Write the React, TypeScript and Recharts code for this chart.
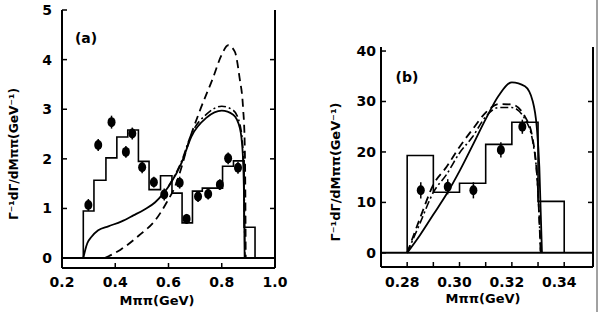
import React from "react";
import { ComposedChart, Line, Scatter, ErrorBar, XAxis, YAxis, ReferenceLine } from "recharts";

// ---- panel (a): full M_pipi range ----
const histEdgesA = [0.28, 0.32, 0.365, 0.406, 0.447, 0.487, 0.527, 0.57, 0.613, 0.651, 0.69, 0.727, 0.803, 0.844, 0.884, 0.925];
const histLevelsA = [0.95, 1.57, 2.02, 2.44, 2.58, 1.95, 1.38, 1.66, 1.31, 0.71, 1.35, 1.41, 1.85, 1.96, 0.62];

const dataAx = [0.299, 0.336, 0.386, 0.44, 0.464, 0.501, 0.545, 0.584, 0.642, 0.668, 0.711, 0.749, 0.793, 0.824, 0.861];
const dataAy = [1.07, 2.28, 2.74, 2.14, 2.51, 1.83, 1.53, 1.28, 1.52, 0.79, 1.24, 1.29, 1.48, 2.01, 1.82];
const dataAerr = [0.12, 0.12, 0.13, 0.12, 0.12, 0.12, 0.11, 0.12, 0.12, 0.1, 0.11, 0.11, 0.11, 0.12, 0.12];

const solidA = [
  [0.28, 0], [0.288, 0.18], [0.295, 0.3], [0.311, 0.43], [0.336, 0.56], [0.374, 0.64],
  [0.424, 0.74], [0.468, 0.86], [0.51, 0.98], [0.549, 1.12], [0.58, 1.3], [0.606, 1.49],
  [0.649, 1.92], [0.686, 2.45], [0.743, 2.83], [0.8, 2.97], [0.843, 2.89], [0.868, 2.62],
  [0.879, 2.1], [0.884, 1.1], [0.886, 0],
];
const dashedA = [
  [0.36, 0], [0.42, 0.17], [0.49, 0.46], [0.55, 0.76], [0.593, 1.12], [0.625, 1.45],
  [0.65, 1.85], [0.668, 2.2], [0.717, 2.96], [0.767, 3.63], [0.799, 4.09], [0.824, 4.29],
  [0.849, 4.16], [0.867, 3.63], [0.88, 3.03], [0.886, 2.36], [0.889, 1.0], [0.89, 0],
];
const dashDotA = [
  [0.6, 1.45], [0.649, 1.95], [0.686, 2.5], [0.743, 2.9], [0.8, 3.06], [0.843, 2.98],
  [0.868, 2.7], [0.88, 2.15], [0.885, 1.1], [0.887, 0],
];

// ---- panel (b): low M_pipi range ----
const histEdgesB = [0.28, 0.29, 0.3, 0.31, 0.32, 0.33, 0.34];
const histLevelsB = [19.3, 12.0, 13.8, 21.5, 25.9, 10.2];

const dataBx = [0.2852, 0.2955, 0.3053, 0.3158, 0.324];
const dataBy = [12.4, 13.1, 12.4, 20.4, 25.0];
const dataBerr = [1.6, 1.5, 1.6, 1.5, 1.4];

const solidB = [
  [0.28, 0], [0.285, 3.6], [0.29, 7.6], [0.295, 11.6], [0.3, 16.2], [0.305, 21.3],
  [0.31, 26.5], [0.315, 31.2], [0.32, 33.8], [0.325, 33.0], [0.328, 30.0], [0.3295, 25],
  [0.3305, 17], [0.3315, 0],
];
const dashedB = [
  [0.28, 0], [0.285, 7.0], [0.29, 13.5], [0.295, 17.0], [0.3, 21.0], [0.305, 24.5],
  [0.31, 27.8], [0.315, 29.5], [0.32, 29.4], [0.325, 27.0], [0.328, 22.5], [0.33, 12],
  [0.331, 0],
];
const dashDotB = [
  [0.28, 0], [0.285, 6.0], [0.29, 12.0], [0.295, 15.5], [0.3, 19.8], [0.305, 23.0],
  [0.31, 27.0], [0.315, 28.8], [0.32, 28.8], [0.325, 26.5], [0.328, 22], [0.33, 12],
  [0.331, 0],
];

const pts = (arr: number[][]) => arr.map(([x, y]) => ({ x, y }));
const steps = (edges: number[], levels: number[]) => {
  const out = [{ x: edges[0], y: 0 }];
  levels.forEach((l, i) => {
    out.push({ x: edges[i], y: l });
    out.push({ x: edges[i + 1], y: l });
  });
  out.push({ x: edges[edges.length - 1], y: 0 });
  return out;
};
const withErr = (xs: number[], ys: number[], es: number[]) => xs.map((x, i) => ({ x, y: ys[i], e: es[i] }));

const tickFont = { fontSize: 14, fontWeight: 700, fill: "#000" };
const frame = { stroke: "#000", strokeWidth: 2 };
const tickStroke = { stroke: "#000", strokeWidth: 1.5 };
const Blob = (p: any) => <ellipse cx={p.cx} cy={p.cy} rx={4} ry={5} fill="#000" />;

type PanelProps = {
  left: number;
  margin: { top: number; right: number; bottom: number; left: number };
  rightW: number;
  xDomain: number[];
  yDomain: number[];
  xTicks: number[];
  xTopTicks: number[];
  xFmt: (v: number) => string;
  yTicks: number[];
  yInner: number[];
  yTickMargin: number;
  xTickMargin: number;
  xDx: number;
  xHeight: number;
  hist: { x: number; y: number }[];
  points: { x: number; y: number; e: number }[];
  solid: number[][];
  dashed: number[][];
  dashDot: number[][];
};

const Panel = (p: PanelProps) => (
  <div style={{ position: "absolute", left: p.left, top: 0 }}>
    <ComposedChart width={300} height={312} margin={p.margin}>
      <XAxis
        type="number"
        dataKey="x"
        domain={p.xDomain}
        allowDataOverflow
        ticks={p.xTicks}
        tickFormatter={p.xFmt}
        height={p.xHeight}
        tickSize={-5}
        tickMargin={p.xTickMargin}
        tick={{ ...tickFont, dx: p.xDx }}
        axisLine={frame}
        tickLine={tickStroke}
        interval={0}
      />
      <XAxis
        xAxisId="t"
        orientation="top"
        mirror
        type="number"
        dataKey="x"
        domain={p.xDomain}
        allowDataOverflow
        ticks={p.xTopTicks}
        tickFormatter={() => ""}
        tickSize={5}
        height={0}
        axisLine={frame}
        tickLine={tickStroke}
        interval={0}
      />
      <YAxis
        type="number"
        dataKey="y"
        domain={p.yDomain}
        allowDataOverflow
        ticks={p.yTicks}
        width={40}
        tickSize={-5}
        tickMargin={p.yTickMargin}
        tick={tickFont}
        axisLine={frame}
        tickLine={tickStroke}
        interval={0}
      />
      <YAxis
        yAxisId="r"
        orientation="right"
        type="number"
        dataKey="y"
        domain={p.yDomain}
        allowDataOverflow
        ticks={p.yInner}
        tickFormatter={() => ""}
        tickSize={-5}
        width={p.rightW}
        axisLine={frame}
        tickLine={tickStroke}
        interval={0}
      />
      <ReferenceLine y={0} stroke="#000" strokeWidth={2} ifOverflow="visible" />
      <Line data={p.hist} dataKey="y" type="linear" stroke="#000" strokeWidth={1.6} dot={false} isAnimationActive={false} />
      <Line data={pts(p.solid)} dataKey="y" type="monotone" stroke="#000" strokeWidth={1.8} dot={false} isAnimationActive={false} />
      <Line data={pts(p.dashed)} dataKey="y" type="monotone" stroke="#000" strokeWidth={1.8} strokeDasharray="8 5" dot={false} isAnimationActive={false} />
      <Line data={pts(p.dashDot)} dataKey="y" type="monotone" stroke="#000" strokeWidth={1.6} strokeDasharray="8 3 2 3" dot={false} isAnimationActive={false} />
      <Scatter data={p.points} dataKey="y" shape={Blob} isAnimationActive={false}>
        <ErrorBar dataKey="e" direction="y" width={0} stroke="#000" strokeWidth={1.5} isAnimationActive={false} />
      </Scatter>
    </ComposedChart>
  </div>
);

const txt = { fontWeight: 700, fill: "#000" } as const;

export default function App() {
  return (
    <div
      style={{
        position: "fixed",
        left: 0,
        top: 0,
        width: 600,
        height: 312,
        background: "#fff",
        fontFamily: "'DejaVu Sans', sans-serif",
      }}
    >
      <Panel
        left={0}
        margin={{ top: 10, right: 0, bottom: 0, left: 22 }}
        rightW={25}
        xDomain={[0.2, 1.0]}
        yDomain={[-0.2, 5]}
        xTicks={[0.2, 0.4, 0.6, 0.8, 1.0]}
        xTopTicks={[0.4, 0.6, 0.8]}
        xFmt={(v) => v.toFixed(1)}
        yTicks={[0, 1, 2, 3, 4, 5]}
        yInner={[1, 2, 3, 4]}
        yTickMargin={15}
        xTickMargin={14}
        xDx={0}
        xHeight={44}
        hist={steps(histEdgesA, histLevelsA)}
        points={withErr(dataAx, dataAy, dataAerr)}
        solid={solidA}
        dashed={dashedA}
        dashDot={dashDotA}
      />
      <Panel
        left={300}
        margin={{ top: 47, right: 0, bottom: 0, left: 41 }}
        rightW={7}
        xDomain={[0.27, 0.351]}
        yDomain={[-2.8, 40.8]}
        xTicks={[0.28, 0.29, 0.3, 0.31, 0.32, 0.33, 0.34]}
        xTopTicks={[0.28, 0.29, 0.3, 0.31, 0.32, 0.33, 0.34]}
        xFmt={(v) => (Math.round(v * 100) % 2 === 0 ? v.toFixed(2) : "")}
        yTicks={[0, 10, 20, 30, 40]}
        yInner={[10, 20, 30]}
        yTickMargin={10}
        xTickMargin={15}
        xDx={-5}
        xHeight={45}
        hist={steps(histEdgesB, histLevelsB)}
        points={withErr(dataBx, dataBy, dataBerr)}
        solid={solidB}
        dashed={dashedB}
        dashDot={dashDotB}
      />
      <svg width={600} height={312} style={{ position: "absolute", left: 0, top: 0, pointerEvents: "none" }}>
        <text x={86} y={43} textAnchor="middle" fontSize={14} {...txt}>(a)</text>
        <text x={407} y={82} textAnchor="middle" fontSize={14} {...txt}>(b)</text>
        <text x={157} y={305} textAnchor="middle" fontSize={13} {...txt}>Mππ(GeV)</text>
        <text x={483} y={303} textAnchor="middle" fontSize={13} {...txt}>Mππ(GeV)</text>
        <text transform="translate(18,154) rotate(-90)" textAnchor="middle" fontSize={12} textLength={132} lengthAdjust="spacingAndGlyphs" {...txt}>
          Γ⁻¹dΓ/dMππ(GeV⁻¹)
        </text>
        <text transform="translate(340,172) rotate(-90)" textAnchor="middle" fontSize={12} textLength={139} lengthAdjust="spacingAndGlyphs" {...txt}>
          Γ⁻¹dΓ/dMππ(GeV⁻¹)
        </text>
        <line x1={597} y1={0} x2={597} y2={312} stroke="#444" strokeWidth={1} />
      </svg>
    </div>
  );
}
